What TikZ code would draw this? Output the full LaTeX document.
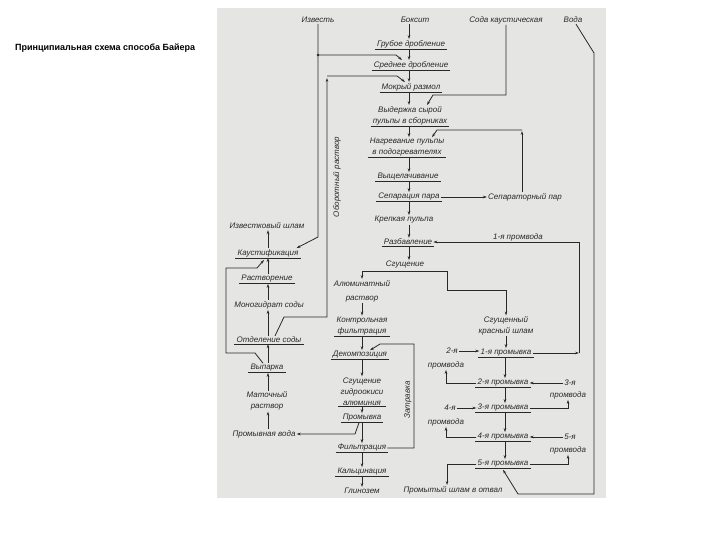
\documentclass[tikz,border=0pt]{standalone}
\usepackage{fontspec}
\setmainfont{Liberation Sans}
\usetikzlibrary{arrows.meta}
\definecolor{panel}{RGB}{229,229,227}
\definecolor{ink}{RGB}{40,40,40}
\begin{document}
\begin{tikzpicture}[x=1pt,y=-1pt,
  lbl/.style={font=\fontsize{8}{11}\selectfont\itshape, text=ink, inner sep=1pt, align=center},
  arr/.style={draw=ink, line width=0.8pt, -{Stealth[length=4pt,width=2.6pt]}},
  ln/.style={draw=ink, line width=0.8pt},
  ulin/.style={draw=ink, line width=0.8pt}]
\useasboundingbox (0,0) rectangle (720,540);
\fill[panel] (217,8) rectangle (606,498);
\node[font=\bfseries\fontsize{9}{11}\selectfont, anchor=west, inner sep=0pt] (title) at (15,48) {Принципиальная схема способа Байера};

% top inputs
\node[lbl] (izv) at (318,20) {Известь};
\node[lbl] (boks) at (415,20) {Боксит};
\node[lbl] (soda) at (506,20) {Сода каустическая};
\node[lbl] (voda) at (573,20) {Вода};
% main column
\node[lbl] (grub) at (411,44) {Грубое дробление};
\node[lbl] (sred) at (411,65) {Среднее дробление};
\node[lbl] (mokr) at (411,87) {Мокрый размол};
\node[lbl] (vyd) at (410,115.5) {Выдержка сырой\\пульпы в сборниках};
\node[lbl] (nagr) at (407,147.5) {Нагревание пульпы\\в подогревателях};
\node[lbl] (vysh) at (408,177) {Выщелачивание};
\node[lbl] (sep) at (409,197) {Сепарация пара};
\node[lbl] (seppar) at (525,197) {Сепараторный пар};
\node[lbl] (krep) at (404,220) {Крепкая пульпа};
\node[lbl] (razb) at (408,242) {Разбавление};
\node[lbl] (pv1) at (518,237) {1-я промвода};
\node[lbl] (sgush) at (405,265) {Сгущение};
% middle column
\node[lbl] (alum) at (362,291) {Алюминатный\\[3pt]раствор};
\node[lbl] (kontr) at (362,326) {Контрольная\\фильтрация};
\node[lbl] (dekomp) at (360,355) {Декомпозиция};
\node[lbl] (sgga) at (362,391.5) {Сгущение\\гидроокиси\\алюминия};
\node[lbl] (promyv) at (362,418) {Промывка};
\node[lbl] (filtr) at (362,448) {Фильтрация};
\node[lbl] (kalc) at (362,472) {Кальцинация};
\node[lbl] (glin) at (362,491) {Глинозем};
\node[lbl, rotate=90] (zatr) at (408,400) {Затравка};
\node[lbl, rotate=90] (oborot) at (337,177) {Оборотный раствор};
% left column
\node[lbl] (izvshl) at (267,226) {Известковый шлам};
\node[lbl] (kaust) at (268,253) {Каустификация};
\node[lbl] (rastv) at (267,279) {Растворение};
\node[lbl] (monog) at (269,305) {Моногидрат соды};
\node[lbl] (otdel) at (269,340) {Отделение соды};
\node[lbl] (vypar) at (267,368) {Выпарка};
\node[lbl] (mat) at (267,401) {Маточный\\раствор};
\node[lbl] (promvoda) at (264,434) {Промывная вода};
% right column
\node[lbl] (sgkr) at (506,326) {Сгущенный\\красный шлам};
\node[lbl] (p1) at (506,353) {1-я промывка};
\node[lbl] (p2) at (503,383) {2-я промывка};
\node[lbl] (p3) at (503,408) {3-я промывка};
\node[lbl] (p4) at (503,437) {4-я промывка};
\node[lbl] (p5) at (503,464) {5-я промывка};
\node[lbl] (pv2a) at (452,351) {2-я};
\node[lbl] (pv2b) at (446,365) {промвода};
\node[lbl] (pv3a) at (570,383) {3-я};
\node[lbl] (pv3b) at (568,395) {промвода};
\node[lbl] (pv4a) at (450,408) {4-я};
\node[lbl] (pv4b) at (446,422) {промвода};
\node[lbl] (pv5a) at (570,437) {5-я};
\node[lbl] (pv5b) at (568,450) {промвода};
\node[lbl] (otval) at (453,490) {Промытый шлам в отвал};

% underlines
\foreach \n in {grub,sred,mokr,vyd,nagr,vysh,sep,razb,kontr,dekomp,sgga,promyv,filtr,kalc,kaust,rastv,otdel,vypar,p1,p2,p3,p4,p5}
  \draw[ulin] ([xshift=-1pt]\n.south west) -- ([xshift=1pt]\n.south east);

% column coordinates
\coordinate (cA) at (409,0);
\coordinate (cB) at (362,0);
\coordinate (cC) at (268,0);
\coordinate (cD) at (505,0);

% main column arrows
\foreach \a/\b in {boks/grub,grub/sred,sred/mokr,mokr/vyd,vyd/nagr,nagr/vysh,vysh/sep,sep/krep,krep/razb,razb/sgush}
  \draw[arr] (\a.south -| cA) -- (\b.north -| cA);
% middle column arrows
\foreach \a/\b in {alum/kontr,kontr/dekomp,dekomp/sgga,sgga/promyv,promyv/filtr,filtr/kalc,kalc/glin}
  \draw[arr] (\a.south -| cB) -- (\b.north -| cB);
% left column arrows (upwards)
\foreach \a/\b in {kaust/izvshl,rastv/kaust,monog/rastv,otdel/monog,vypar/otdel,mat/vypar,promvoda/mat}
  \draw[arr] (\a.north -| cC) -- (\b.south -| cC);
% right column arrows
\draw[arr] (sgkr.south) -- (p1.north);
\foreach \a/\b in {p1/p2,p2/p3,p3/p4,p4/p5}
  \draw[arr] (\a.south -| cD) -- (\b.north -| cD);

% thickening split
\coordinate (sgL) at (362,271);
\coordinate (sgR) at (447,271);
\draw[ln] (sgL) -- (sgR);
\draw[arr] (sgL) -- (alum.north -| sgL);
\draw[arr] (sgR) -- (447,290) -| (sgkr.north);

% lime
\draw[arr] (izv.south) -- (318,237) -- ([xshift=-3pt]kaust.north east);
\fill[ink] (318,55) circle (1.3pt);
\draw[arr] (318,55) -- (396,55) -- ([xshift=-9pt]sred.north);
% caustic soda
\draw[arr] (soda.south) -- (506,95) -- (433,95) -- ([xshift=17pt]vyd.north);
% water
\draw[arr] ([xshift=3pt]voda.south) -- (594,53) -- (594,494) -- (518,494) -- ([yshift=-1pt]p5.south);
% separator steam
\draw[arr] (sep.east) -- (seppar.west);
\draw[arr] ([xshift=-3pt]seppar.north) -- (522,131);
\draw[arr] (522,130) -- (437,130) -- ([xshift=25pt]nagr.north);
% 1st wash water to dilution
\draw[arr] (p1.east) -- (579,353);
\draw[arr] (579,353) |- (razb.east);
% circulating solution
\draw[arr] ([xshift=6pt]otdel.north) -- (284,317) -- (327,317) -- (327,78);
\draw[arr] (327,76) -- (397,76) -- ([xshift=-6pt]mokr.north);
% evaporation loop to causticization
\draw[arr] ([xshift=-4pt]vypar.north) -- (255,353) -- (226,353) -- (226,268) -- (257,268) -- ([xshift=-4pt,yshift=-2pt]kaust.south);
% seed
\draw[arr] (filtr.east) -- (414,448) -- (414,344) -- (380,344) -- ([xshift=10pt]dekomp.north);
% wash water
\draw[arr] ([xshift=-3pt]promyv.south) -- (355,434) -- (promvoda.east);

% washing side arrows
\draw[arr] (pv2a.east) -- (pv2a.east -| p1.west);
\draw[arr] (p2.west) -| (pv2b.south);
\draw[arr] (pv3a.west) -- (pv3a.west -| p2.east);
\draw[arr] (p3.east) -| (pv3b.south);
\draw[arr] (pv4a.east) -- (pv4a.east -| p3.west);
\draw[arr] (p4.west) -| (pv4b.south);
\draw[arr] (pv5a.west) -- (pv5a.west -| p4.east);
\draw[arr] (p5.east) -| (pv5b.south);
\draw[arr] (p5.west) -| ([xshift=-6pt]otval.north);
\end{tikzpicture}
\end{document}
